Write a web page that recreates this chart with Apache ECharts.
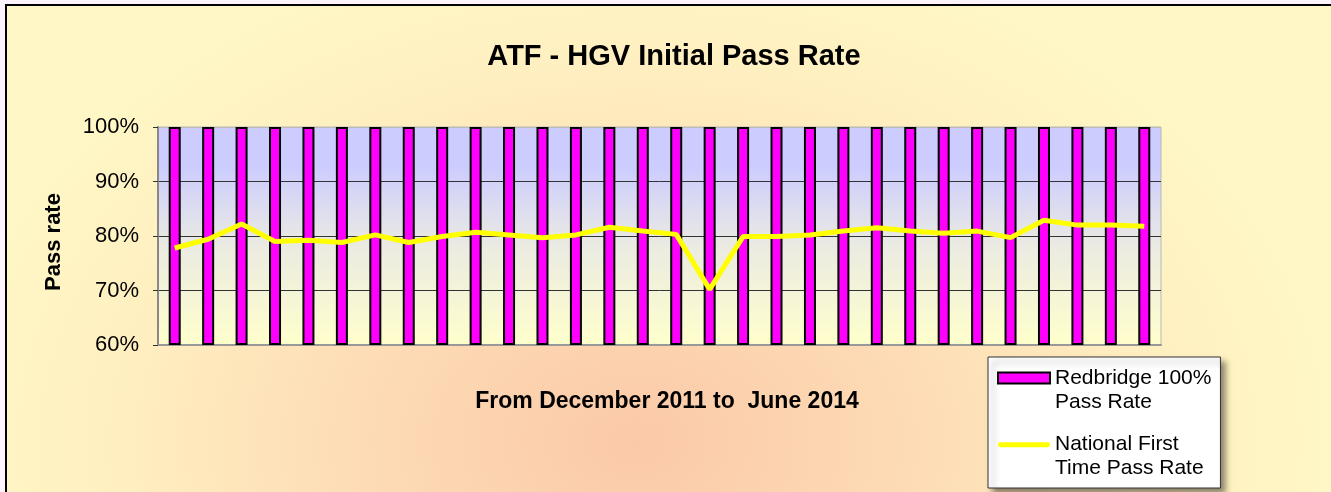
<!DOCTYPE html>
<html>
<head>
<meta charset="utf-8">
<script src="https://cdn.jsdelivr.net/npm/echarts@6/dist/echarts.min.js"></script>
<style>
  html, body { margin: 0; padding: 0; width: 1331px; height: 492px; overflow: hidden; background: #fdf3fa; }
  .frame {
    position: absolute; left: 5px; top: 4px; width: 1400px; height: 560px;
    border-left: 2px solid #000; border-top: 2px solid #000;
    background: radial-gradient(ellipse 720px 520px at 630px 436px, #fbc9a8 0%, #fddcb6 40%, #ffefc0 72%, #fff8c6 100%);
  }
  #chart { position: absolute; left: 0; top: 0; width: 1331px; height: 492px; }
</style>
</head>
<body>
<div class="frame"></div>
<div id="chart"></div>
<script>
const FONT = 'Arial, "Liberation Sans", sans-serif'

// Dec 2011 .. May 2014 (axis labels are hidden in the original)
const months = [
  'Dec-11', 'Jan-12', 'Feb-12', 'Mar-12', 'Apr-12', 'May-12', 'Jun-12', 'Jul-12', 'Aug-12', 'Sep-12',
  'Oct-12', 'Nov-12', 'Dec-12', 'Jan-13', 'Feb-13', 'Mar-13', 'Apr-13', 'May-13', 'Jun-13', 'Jul-13',
  'Aug-13', 'Sep-13', 'Oct-13', 'Nov-13', 'Dec-13', 'Jan-14', 'Feb-14', 'Mar-14', 'Apr-14', 'May-14'
]
const redbridge = [
  100, 100, 100, 100, 100, 100, 100, 100, 100, 100,
  100, 100, 100, 100, 100, 100, 100, 100, 100, 100,
  100, 100, 100, 100, 100, 100, 100, 100, 100, 100
]
const national = [
  77.8, 79.4, 82.2, 79.0, 79.2, 78.8, 80.2, 78.8, 79.9, 80.7,
  80.2, 79.7, 80.2, 81.6, 80.9, 80.3, 70.2, 79.9, 79.9, 80.2,
  80.9, 81.5, 80.9, 80.5, 80.9, 79.7, 82.9, 82.0, 82.0, 81.8
]
const yTicks = { min: 60, max: 100, step: 10 }

const legendLabels = {
  'Redbridge 100% Pass Rate': 'Redbridge 100%\nPass Rate',
  'National First Time Pass Rate': 'National First\nTime Pass Rate'
}

// icons are 52 x 48 boxes so the swatch sits next to the first text line, like Excel does
const barIcon = 'path://M0,0L0,0M0,48L0,48M0,6.5H52V17.5H0Z'
const lineIcon = 'path://M0,0L0,0M0,48L0,48M2,10H50A2.5,2.5,0,0,1,50,15H2A2.5,2.5,0,0,1,2,10Z'

const chart = echarts.init(document.getElementById('chart'))

chart.setOption({
  animation: false,
  backgroundColor: 'transparent',
  textStyle: { fontFamily: FONT },
  title: {
    text: 'ATF - HGV Initial Pass Rate',
    left: 674,
    top: 57,
    padding: 0,
    textAlign: 'center',
    textVerticalAlign: 'middle',
    textStyle: { fontFamily: FONT, fontSize: 29, fontWeight: 'bold', color: '#000' }
  },
  graphic: [
    {
      type: 'text',
      x: 54, y: 242,
      rotation: Math.PI / 2,
      style: { text: 'Pass rate', font: 'bold 22px ' + FONT, fill: '#000', align: 'center', verticalAlign: 'middle' }
    },
    {
      type: 'text',
      x: 667, y: 402,
      style: { text: 'From December 2011 to  June 2014', font: 'bold 23px ' + FONT, fill: '#000', align: 'center', verticalAlign: 'middle' }
    }
  ],
  legend: {
    orient: 'vertical',
    left: 988,
    top: 357,
    height: 300,
    padding: [8, 9, 8, 9],
    itemGap: 17,
    itemWidth: 52,
    itemHeight: 48,
    symbolKeepAspect: true,
    backgroundColor: '#fff',
    borderColor: '#333',
    borderWidth: 1,
    shadowBlur: 6,
    shadowColor: 'rgba(0,0,0,0.45)',
    shadowOffsetX: 5,
    shadowOffsetY: 5,
    selectedMode: false,
    formatter: name => legendLabels[name],
    textStyle: { fontFamily: FONT, fontSize: 21, color: '#000', lineHeight: 24 },
    data: [
      { name: 'Redbridge 100% Pass Rate', icon: barIcon, itemStyle: { color: '#ff00ff', borderColor: '#000', borderWidth: 2 } },
      { name: 'National First Time Pass Rate', icon: lineIcon, itemStyle: { color: '#ffff00', borderWidth: 0 } }
    ]
  },
  grid: {
    left: 158,
    right: 170,
    top: 127,
    bottom: 147,
    show: true,
    borderColor: '#b8b8b8',
    borderWidth: 1,
    backgroundColor: {
      type: 'linear', x: 0, y: 0, x2: 0, y2: 1,
      colorStops: [
        { offset: 0, color: '#ccccff' },
        { offset: 0.18, color: '#ccccff' },
        { offset: 0.55, color: '#ebebe2' },
        { offset: 1, color: '#ffffcc' }
      ]
    }
  },
  xAxis: {
    type: 'category',
    data: months,
    boundaryGap: true,
    axisLine: { show: true, lineStyle: { color: '#999', width: 2 } },
    axisTick: { show: false },
    axisLabel: { show: false },
    splitLine: { show: false }
  },
  yAxis: {
    type: 'value',
    min: yTicks.min,
    max: yTicks.max,
    interval: yTicks.step,
    startValue: yTicks.min,
    axisLine: { show: true, lineStyle: { color: '#888', width: 2 } },
    axisTick: { show: true, length: 5, lineStyle: { color: '#333' } },
    axisLabel: { formatter: '{value}%', fontFamily: FONT, fontSize: 22, color: '#000', margin: 19 },
    splitLine: { show: true, lineStyle: { color: ['#999', '#333', '#333', '#333', '#bbb'], width: 1 } }
  },
  series: [
    {
      name: 'Redbridge 100% Pass Rate',
      type: 'bar',
      data: redbridge,
      barWidth: 12,
      itemStyle: { color: '#ff00ff', borderColor: '#000', borderWidth: 2 }
    },
    {
      name: 'National First Time Pass Rate',
      type: 'line',
      data: national,
      symbol: 'none',
      z: 5,
      lineStyle: { color: '#ffff00', width: 5 },
      itemStyle: { color: '#ffff00' }
    }
  ]
})
</script>
</body>
</html>
